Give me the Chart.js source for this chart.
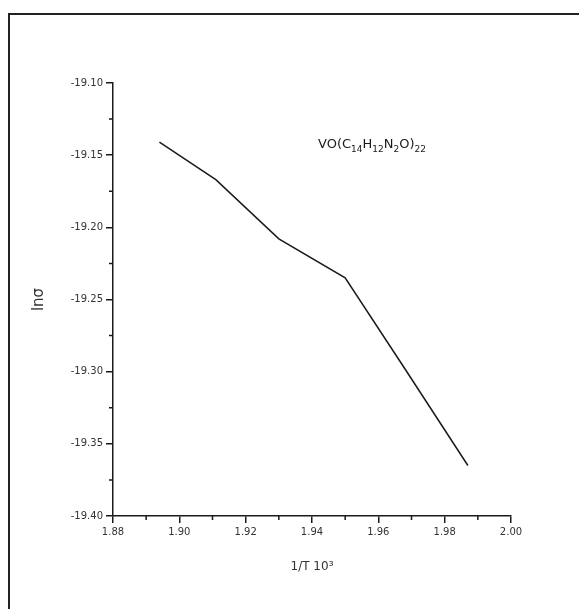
<!DOCTYPE html>
<html>
<head>
<meta charset="utf-8">
<script src="https://cdn.jsdelivr.net/npm/chart.js@4.4.0/dist/chart.umd.min.js"></script>
<style>
    body { margin: 0; background: #fff; }
    canvas { display: block; }
</style>
</head>
<body>
<canvas id="lnChart" width="579" height="609"></canvas>
<script>
// data
const invT = [1.894, 1.911, 1.930, 1.950, 1.968, 1.987];
const lnSigma = [-19.141, -19.167, -19.208, -19.235, -19.298, -19.365];
const xTicks = [1.88, 1.90, 1.92, 1.94, 1.96, 1.98, 2.00];
const yTicks = [-19.10, -19.15, -19.20, -19.25, -19.30, -19.35, -19.40];

const ink = '#1a1a1a';
const tickFont = { family: 'DejaVu Sans', size: 10 };

// frame, minor ticks and compound label
const extras = {
    id: 'extras',
    beforeDraw(chart) {
        const ctx = chart.ctx;
        ctx.save();
        ctx.fillStyle = '#fff';
        ctx.fillRect(0, 0, chart.width, chart.height);
        ctx.strokeStyle = '#222';
        ctx.lineWidth = 2;
        ctx.beginPath();
        ctx.moveTo(9, chart.height);
        ctx.lineTo(9, 14);
        ctx.lineTo(chart.width, 14);
        ctx.stroke();
        ctx.restore();
    },
    afterDraw(chart) {
        const ctx = chart.ctx;
        const xs = chart.scales.x;
        const ys = chart.scales.y;
        ctx.save();
        ctx.strokeStyle = ink;
        ctx.lineWidth = 1.5;
        ctx.beginPath();
        for (let i = 0; i < xTicks.length - 1; i++) {
            const px = xs.getPixelForValue((xTicks[i] + xTicks[i + 1]) / 2);
            ctx.moveTo(px, ys.bottom);
            ctx.lineTo(px, ys.bottom + 4);
        }
        for (let i = 0; i < yTicks.length - 1; i++) {
            const py = ys.getPixelForValue((yTicks[i] + yTicks[i + 1]) / 2);
            ctx.moveTo(xs.left, py);
            ctx.lineTo(xs.left - 4, py);
        }
        ctx.stroke();

        // VO(C14H12N2O)22 label
        const parts = [['VO(C', 0], ['14', 1], ['H', 0], ['12', 1], ['N', 0], ['2', 1], ['O)', 0], ['22', 1]];
        let x = 318;
        const base = 148;
        ctx.fillStyle = ink;
        ctx.textBaseline = 'alphabetic';
        for (const [t, sub] of parts) {
            ctx.font = sub ? '9px "DejaVu Sans"' : '13px "DejaVu Sans"';
            ctx.fillText(t, x, sub ? base + 4 : base);
            x += ctx.measureText(t).width;
        }
        ctx.restore();
    }
};

new Chart(document.getElementById('lnChart'), {
    type: 'line',
    data: {
        datasets: [{
            data: invT.map((v, i) => ({ x: v, y: lnSigma[i] })),
            borderColor: ink,
            borderWidth: 1.5,
            pointRadius: 0,
            tension: 0,
            fill: false
        }]
    },
    options: {
        responsive: false,
        animation: false,
        events: [],
        layout: { padding: { top: 83, right: 68, left: 0, bottom: 0 } },
        plugins: { legend: { display: false }, tooltip: { enabled: false } },
        scales: {
            x: {
                type: 'linear',
                min: xTicks[0],
                max: xTicks[xTicks.length - 1],
                afterFit: s => { s.height = 93; },
                afterBuildTicks: s => { s.ticks = xTicks.map(v => ({ value: v })); },
                border: { display: true, color: ink, width: 1.5 },
                grid: { display: true, drawOnChartArea: false, drawTicks: true, tickLength: 7, color: ink, lineWidth: 1.5 },
                ticks: {
                    color: '#333',
                    font: tickFont,
                    padding: 3,
                    maxRotation: 0,
                    callback: v => v.toFixed(2)
                },
                title: {
                    display: true,
                    text: '1/T 10³',
                    color: '#333',
                    font: { family: 'DejaVu Sans', size: 12 },
                    padding: { top: 0, bottom: 35 }
                }
            },
            y: {
                type: 'linear',
                min: yTicks[yTicks.length - 1],
                max: yTicks[0],
                afterFit: s => { s.width = 113; },
                afterBuildTicks: s => { s.ticks = yTicks.map(v => ({ value: v })); },
                border: { display: true, color: ink, width: 1.5 },
                grid: { display: true, drawOnChartArea: false, drawTicks: true, tickLength: 7, color: ink, lineWidth: 1.5 },
                ticks: {
                    color: '#333',
                    font: tickFont,
                    padding: 3,
                    callback: v => v.toFixed(2)
                },
                title: {
                    display: true,
                    text: 'lnσ',
                    color: '#333',
                    font: { family: 'DejaVu Sans', size: 15 },
                    padding: { top: 30, bottom: 0 }
                }
            }
        }
    },
    plugins: [extras]
});
</script>
</body>
</html>
